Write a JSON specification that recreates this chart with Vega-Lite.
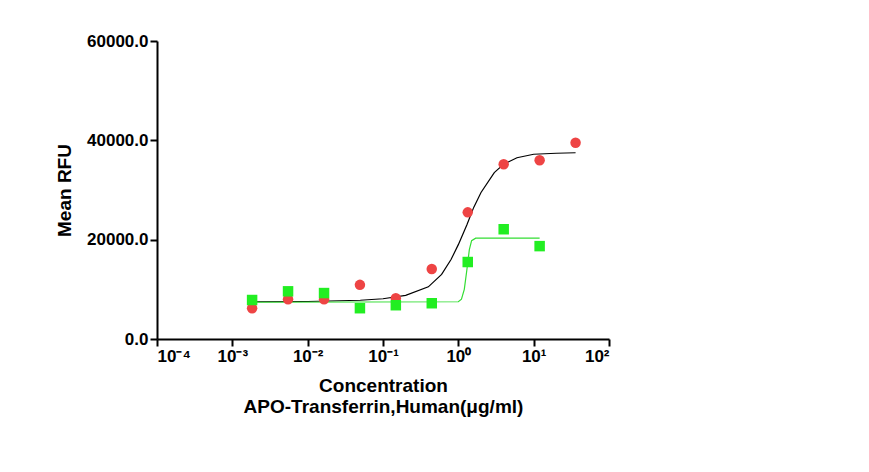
{
"$schema":"https://vega.github.io/schema/vega-lite/v6.json",
"width":452,"height":298,"autosize":"none","padding":{"left":157,"top":41,"right":260,"bottom":133},
"background":"white",
"datasets":{
"pts":[
{"c":0.00183,"v":6200,"s":"PCH2542"},{"c":0.00549,"v":8000,"s":"PCH2542"},{"c":0.0165,"v":8000,"s":"PCH2542"},{"c":0.0494,"v":10900,"s":"PCH2542"},{"c":0.148,"v":8200,"s":"PCH2542"},{"c":0.444,"v":14100,"s":"PCH2542"},{"c":1.333,"v":25500,"s":"PCH2542"},{"c":4,"v":35200,"s":"PCH2542"},{"c":12,"v":36000,"s":"PCH2542"},{"c":36,"v":39500,"s":"PCH2542"},
{"c":0.00183,"v":7850,"s":"Competitor"},{"c":0.00549,"v":9600,"s":"Competitor"},{"c":0.0165,"v":9250,"s":"Competitor"},{"c":0.0494,"v":6200,"s":"Competitor"},{"c":0.148,"v":6800,"s":"Competitor"},{"c":0.444,"v":7200,"s":"Competitor"},{"c":1.333,"v":15500,"s":"Competitor"},{"c":4,"v":22100,"s":"Competitor"},{"c":12,"v":18700,"s":"Competitor"}],
"fit":[
{"c":0.00183,"v":7500,"s":"PCH2542"},{"c":0.01,"v":7550,"s":"PCH2542"},{"c":0.05,"v":7800,"s":"PCH2542"},{"c":0.1,"v":8100,"s":"PCH2542"},{"c":0.2,"v":8800,"s":"PCH2542"},{"c":0.4,"v":10500,"s":"PCH2542"},{"c":0.6,"v":13000,"s":"PCH2542"},{"c":0.8,"v":16000,"s":"PCH2542"},{"c":1.0,"v":19000,"s":"PCH2542"},{"c":1.3,"v":23000,"s":"PCH2542"},{"c":1.6,"v":26500,"s":"PCH2542"},{"c":2,"v":29500,"s":"PCH2542"},{"c":3,"v":33500,"s":"PCH2542"},{"c":4,"v":35200,"s":"PCH2542"},{"c":6,"v":36500,"s":"PCH2542"},{"c":10,"v":37200,"s":"PCH2542"},{"c":20,"v":37400,"s":"PCH2542"},{"c":36,"v":37500,"s":"PCH2542"},
{"c":0.00183,"v":7400,"s":"Competitor"},{"c":1.0,"v":7500,"s":"Competitor"},{"c":1.1,"v":8000,"s":"Competitor"},{"c":1.2,"v":10000,"s":"Competitor"},{"c":1.3,"v":14000,"s":"Competitor"},{"c":1.4,"v":18000,"s":"Competitor"},{"c":1.5,"v":19800,"s":"Competitor"},{"c":1.7,"v":20300,"s":"Competitor"},{"c":12,"v":20300,"s":"Competitor"}]
},
"layer":[
{"data":{"name":"fit"},"mark":{"type":"line","strokeWidth":1.2},
"encoding":{"x":{"field":"c","type":"quantitative","scale":{"type":"log","domain":[0.0001,100]}},"y":{"field":"v","type":"quantitative"},
"detail":{"field":"s"},
"stroke":{"field":"s","type":"nominal","scale":{"domain":["PCH2542","Competitor"],"range":["#000000","#33dd33"]},"legend":null}}},
{"data":{"name":"pts"},"mark":{"type":"point","filled":true,"size":110,"opacity":1,"strokeWidth":0},
"encoding":{
"x":{"field":"c","type":"quantitative","scale":{"type":"log","domain":[0.0001,100]},
"axis":{"values":[0.0001,0.001,0.01,0.1,1,10,100],"labelExpr":"'10' + ['⁻⁴','⁻³','⁻²','⁻¹','⁰','¹','²'][round(log(datum.value)/LN10)+4]","labelFontSize":17,"labelFontWeight":"bold","labelColor":"black","domainColor":"black","domainWidth":2,"tickColor":"black","tickWidth":2,"tickSize":7,"grid":false,"labelFont":"Arial","titleFont":"Arial",
"title":["Concentration","APO-Transferrin,Human(μg/ml)"],"titleFontSize":19,"titleColor":"black","titlePadding":12}},
"y":{"field":"v","type":"quantitative","scale":{"domain":[0,60000]},
"axis":{"values":[0,20000,40000,60000],"format":".1f","labelFontSize":17,"labelFontWeight":"bold","labelColor":"black","domainColor":"black","domainWidth":2,"tickColor":"black","tickWidth":2,"tickSize":7,"grid":false,"labelFont":"Arial","titleFont":"Arial","title":"Mean RFU","titleFontSize":19,"titleColor":"black","titlePadding":12}},
"fill":{"field":"s","type":"nominal","scale":{"domain":["PCH2542","Competitor"],"range":["#ee4444","#22ee22"]},
"legend":{"title":null,"orient":"none","legendX":515,"legendY":8,"labelFontSize":19,"labelFont":"Arial","labelColor":"black","symbolSize":140,"rowPadding":14,"labelOffset":12,"symbolStrokeWidth":0}},
"shape":{"field":"s","type":"nominal","scale":{"domain":["PCH2542","Competitor"],"range":["circle","square"]}}}}
],
"config":{"view":{"stroke":null}}
}
